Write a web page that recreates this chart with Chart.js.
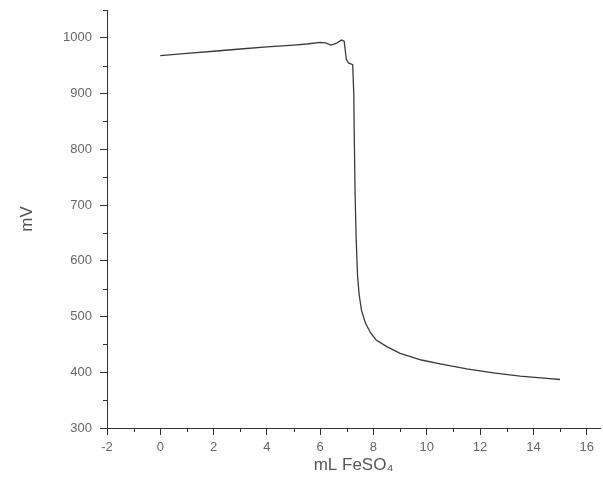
<!DOCTYPE html>
<html>
<head>
<meta charset="utf-8">
<script src="https://cdn.jsdelivr.net/npm/chart.js@4"></script>
<style>
  body { margin: 0; background: #fff; }
</style>
</head>
<body>
<canvas id="titration" width="603" height="497"></canvas>
<script>
// Potentiometric titration curve, mV vs mL FeSO4

const volume = [0, 1, 2, 3, 4, 5, 5.5, 6, 6.2, 6.4, 6.6, 6.8, 6.9, 6.98, 7.06, 7.22, 7.26, 7.28, 7.31, 7.35, 7.4, 7.46, 7.55, 7.7, 7.9, 8.1, 8.5, 9, 9.8, 10.5, 11.5, 12.5, 13.5, 14.5, 15];
const potential = [968, 972, 976, 980, 984, 987, 989, 992, 991, 987, 990, 996, 994, 962, 955, 952, 900, 820, 720, 640, 575, 540, 511, 488, 470, 458, 446, 434, 422, 415, 406, 399, 393, 389, 387];

const xTicks = [-2, 0, 2, 4, 6, 8, 10, 12, 14, 16];
const xMinor = [-1, 1, 3, 5, 7, 9, 11, 13, 15];
const yTicks = [300, 400, 500, 600, 700, 800, 900, 1000];
const yMinor = [350, 450, 550, 650, 750, 850, 950, 1050];

const axisColor = "#333";
const labelColor = "#666";

// short ticks between the labelled ones
const minorTicks = {
  id: "minorTicks",
  afterDraw(chart) {
    const ctx = chart.ctx;
    const x = chart.scales.x;
    const y = chart.scales.y;
    ctx.save();
    ctx.strokeStyle = axisColor;
    ctx.lineWidth = 1;
    ctx.beginPath();
    xMinor.forEach((v) => {
      const px = Math.round(x.getPixelForValue(v)) + 0.5;
      ctx.moveTo(px, x.top);
      ctx.lineTo(px, x.top + 4);
    });
    yMinor.forEach((v) => {
      const py = Math.round(y.getPixelForValue(v)) + 0.5;
      ctx.moveTo(y.right, py);
      ctx.lineTo(y.right - 4, py);
    });
    ctx.stroke();
    ctx.restore();
  },
};

new Chart(document.getElementById("titration").getContext("2d"), {
  type: "scatter",
  data: {
    datasets: [
      {
        label: "mV",
        data: volume.map((v, i) => ({ x: v, y: potential[i] })),
        showLine: true,
        borderColor: "#3a3a3a",
        borderWidth: 1.3,
        pointRadius: 0,
        tension: 0,
        fill: false,
      },
    ],
  },
  options: {
    responsive: false,
    animation: false,
    layout: { padding: { top: 10, right: 3, left: 0, bottom: 0 } },
    plugins: {
      legend: { display: false },
      tooltip: { enabled: false },
    },
    scales: {
      x: {
        type: "linear",
        min: -2,
        max: 16.5,
        afterBuildTicks: (s) => {
          s.ticks = xTicks.map((v) => ({ value: v }));
        },
        afterFit: (s) => {
          s.height = 69;
          s.paddingLeft = 0;
          s.paddingRight = 0;
        },
        grid: { drawOnChartArea: false, drawTicks: true, tickLength: 7, color: axisColor },
        border: { color: axisColor, width: 1 },
        ticks: {
          color: labelColor,
          padding: 5,
          font: { family: "Liberation Sans, Arial, sans-serif", size: 13 },
          callback: (v) => String(v),
        },
        title: {
          display: true,
          text: "mL FeSO₄",
          color: "#555",
          padding: { top: 0, bottom: 21 },
          font: { family: "Liberation Sans, Arial, sans-serif", size: 17 },
        },
      },
      y: {
        type: "linear",
        min: 300,
        max: 1050,
        afterBuildTicks: (s) => {
          s.ticks = yTicks.map((v) => ({ value: v }));
        },
        afterFit: (s) => {
          s.width = 107;
          s.paddingTop = 0;
          s.paddingBottom = 0;
        },
        grid: { drawOnChartArea: false, drawTicks: true, tickLength: 7, color: axisColor },
        border: { color: axisColor, width: 1 },
        ticks: {
          color: labelColor,
          padding: 8,
          font: { family: "Liberation Sans, Arial, sans-serif", size: 13 },
          callback: (v) => String(v),
        },
        title: {
          display: true,
          text: "mV",
          color: "#555",
          padding: { top: 17, bottom: 0 },
          font: { family: "Liberation Sans, Arial, sans-serif", size: 17 },
        },
      },
    },
  },
  plugins: [minorTicks],
});
</script>
</body>
</html>
